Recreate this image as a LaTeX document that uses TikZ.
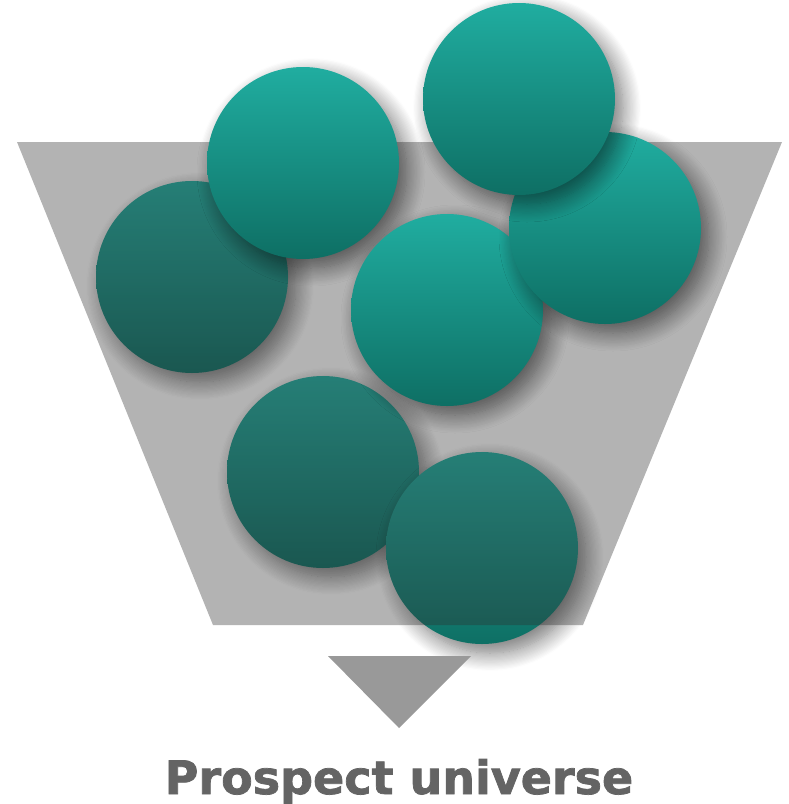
\documentclass[tikz,border=0pt]{standalone}
\usepackage{fontspec}
\newfontfamily\labelfont[BoldFeatures={FakeBold=1.6}]{DejaVu Sans}
\definecolor{tealtop}{RGB}{32, 173, 160}
\definecolor{tealbot}{RGB}{14, 111, 100}
\definecolor{funnelgray}{RGB}{48, 48, 48}
\definecolor{spoutgray}{RGB}{153, 153, 153}
\definecolor{labelgray}{RGB}{100, 100, 100}
\usetikzlibrary{shadows.blur}
\tikzset{
	ball/.style={circle, inner sep=0pt, minimum size=192pt, top color=tealtop, bottom color=tealbot, blur shadow={shadow xshift=8pt, shadow yshift=-9pt, shadow blur radius=18pt, shadow blur steps=16, shadow opacity=55}},
	funnel/.style={fill=funnelgray, fill opacity=0.37, draw=none},
	spout/.style={fill=spoutgray, draw=none},
	caption/.style={font=\labelfont\bfseries\fontsize{46}{56}\selectfont, text=labelgray, inner sep=0pt, anchor=base},
}

\begin{document}
\begin{tikzpicture}[x=1pt, y=-1pt]
	\useasboundingbox (0,0) rectangle (788,804);
	% balls behind the funnel
	\node[ball] (b1) at (192,277) {};
	\node[ball] (b6) at (323,472) {};
	\node[ball] (b7) at (482,548) {};
	% funnel
	\fill[funnel] (17,142) -- (782,142) -- (583,625) -- (213,625) -- cycle;
	% balls in front
	\node[ball] (b2) at (303,163) {};
	\node[ball] (b5) at (447,310) {};
	\node[ball] (b4) at (605,228) {};
	\node[ball] (b3) at (519,99) {};
	\fill[spout] (328,656) -- (471,656) -- (399,728) -- cycle;
	\node[caption] (title) at (399,794) {Prospect universe};
\end{tikzpicture}
\end{document}
